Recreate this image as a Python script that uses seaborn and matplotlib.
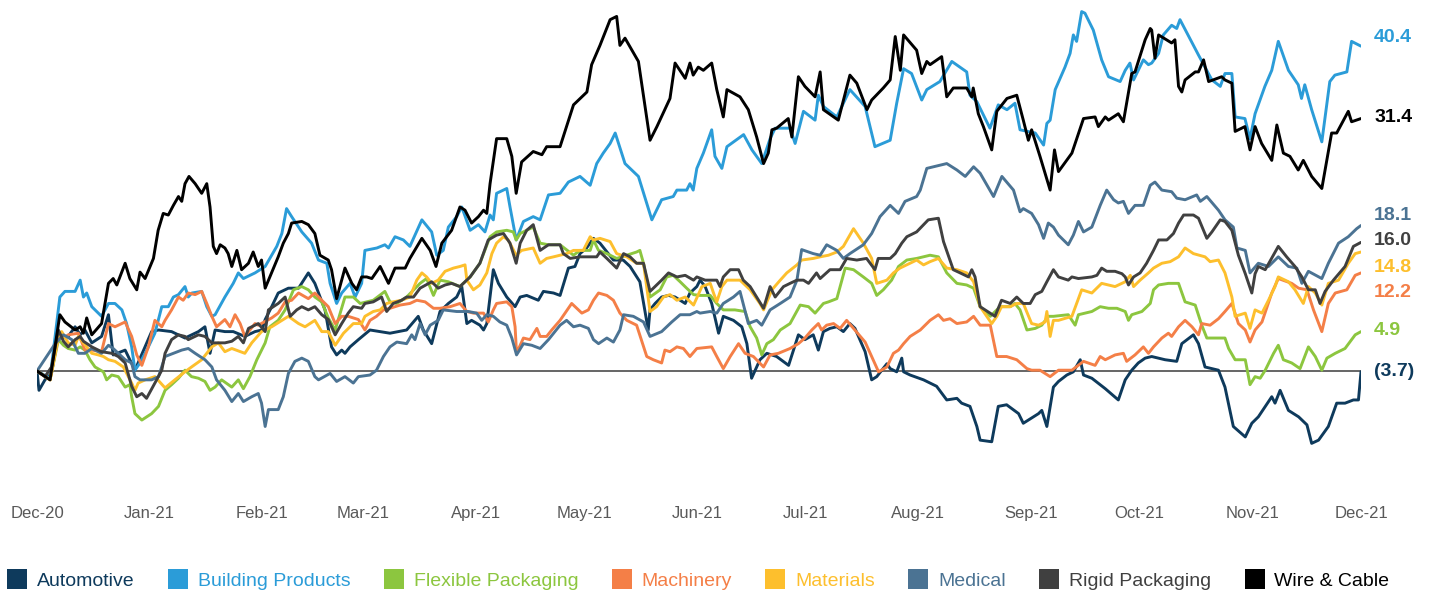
import numpy as np
import pandas as pd
import matplotlib
matplotlib.use("Agg")
import matplotlib.pyplot as plt
from matplotlib.lines import Line2D
import seaborn as sns

# ---------------- data (day offsets from 2020-12-01, index values) ----------------
start = pd.Timestamp("2020-12-01")
end = pd.Timestamp("2021-12-01")

automotive_days = [
    0, 0.55, 2.2, 4.0, 5.9, 7.3, 8.6, 10.5, 11.9, 13.2, 15.1, 17.8, 19.7, 21.0, 24.3, 27.0, 31.6, 33.5,
    37.1, 40.8, 44.5, 46.3, 47.7, 49.1, 51.8, 54.1, 57.3, 60.1, 62.0, 62.9, 64.7, 66.5, 69.3, 72.1, 74.8,
    76.6, 79.4, 81.2, 82.6, 84.0, 84.9, 86.3, 88.6,
    91.8, 97.3, 101.9, 105.1, 106.5, 108.8, 111.1, 113.4, 115.7, 117.1, 118.5, 119.8, 122.1, 123.1, 124.0,
    125.8, 127.2, 129.5, 131.8, 133.2, 135.0, 138.2, 139.6, 142.4, 144.2, 146.5, 148.3, 149.7, 151.5, 153.4,
    155.2, 158.9, 161.6, 163.5, 166.2, 168.5, 169.0, 170.4, 172.2, 174.1, 175.9, 178.7, 180.0, 181.9,
    182.8, 184.2, 186.0, 187.9, 189.2, 192.0, 194.3, 195.7, 197.0, 199.3, 201.2, 203.9, 207.2, 209.9, 211.7,
    214.0, 215.4, 216.8, 218.6, 220.5, 222.3, 224.1, 225.5, 228.3, 230.1, 231.5, 234.3, 235.2, 237.0, 238.4,
    238.9, 240.7, 244.4, 248.0, 250.8, 253.6, 254.9, 257.2, 259.1, 260.0, 263.2, 265.0, 267.3, 270.6, 271.9,
    276.1, 277.0, 278.4, 280.2, 281.6, 283.9, 285.7, 287.6, 288.5, 290.8, 294.5, 298.1, 300.0, 301.8, 303.6,
    305.5, 307.3, 311.0, 314.2, 315.6, 318.8, 320.2, 322.0, 325.7, 327.5, 329.8, 333.1, 334.9, 336.7, 340.4,
    341.3, 342.7, 345.0, 347.8, 350.1, 351.4, 353.3, 356.0, 358.3, 360.6, 362.9, 364.3, 365]
automotive = [
    0, -2.4, -1.1, -0.3, 4.9, 4.3, 4.3, 5.5, 4.5, 5.1, 3.5, 4.3, 7.0, 2.0, 2.6, 0.1, 4.9, 5.1,
    4.9, 4.1, 4.9, 5.5, 2.2, 5.1, 4.9, 4.9, 4.3, 4.9, 5.1, 6.4, 8.0, 9.7, 10.3, 10.3, 12.2,
    10.9, 7.6, 3.0, 2.0, 2.6, 2.2, 3.0, 3.9,
    5.1, 4.7, 5.1, 6.8, 5.1, 3.4, 7.4, 8.4, 9.2, 10.5, 5.9, 6.3, 5.7, 5.1, 5.9,
    12.6, 10.9, 9.2, 8.0, 9.2, 9.4, 8.8, 9.9, 9.7, 9.4, 12.8, 13.0, 14.6, 15.3, 16.5,
    15.9, 13.8, 13.8, 13.0, 11.1, 5.1, 7.6, 8.4, 9.2, 9.4, 9.2, 8.4, 9.7, 10.5,
    11.3, 10.5, 8.4, 4.7, 6.8, 6.3, 5.5, 3.4, -0.9, 1.4, 2.2, 1.8, 0.7, 4.5, 3.9,
    4.5, 2.6, 4.9, 5.3, 5.5, 4.9, 5.9, 5.3, 2.4, -1.1, -0.7, 0.9, 0.3, -0.1, 1.6,
    -0.1, -0.5, -1.1, -1.9, -3.6, -3.4, -4.0, -4.4, -6.9, -8.6, -8.8, -4.4, -4.2, -5.3, -6.5,
    -5.3, -4.9, -6.9, -2.0, -1.3, -0.5, -0.1, 1.4, -0.5, -0.9, -2.2, -3.6, -1.1, 0.1, 1.0,
    1.6, 1.8, 1.4, 1.2, 3.4, 4.5, 3.4, 0.5, 0.1, -2.0, -6.9, -8.2, -6.5, -5.7, -3.2,
    -4.0, -2.4, -4.9, -5.7, -6.7, -9.0, -8.6, -6.9, -4.0, -4.0, -3.6, -3.6, -0.1]

building_days = [
    0, 3.6, 5.0, 6.3, 7.7, 10.5, 11.9, 12.8, 13.7, 15.1, 17.8, 19.7, 21.5, 23.4, 24.7, 26.1, 27.0,
    28.4, 30.7, 32.5, 34.4, 36.2, 37.6, 39.0, 40.8, 41.7, 42.7, 45.4, 46.8, 48.2, 49.1, 51.8, 54.1,
    55.5, 56.9, 60.1, 61.5, 62.9, 66.1, 67.5, 68.8, 70.2, 73.0, 75.7, 77.6, 79.9, 80.8, 82.6, 84.0,
    86.3, 87.7, 89.5,
    90.4, 93.7, 95.9, 96.9, 98.7, 101.0, 102.8, 104.2, 106.1, 108.8, 110.2, 112.0, 113.4, 115.7,
    117.1, 119.4, 121.7, 123.5, 124.9, 125.8, 126.7, 129.5, 130.4, 132.1, 134.1, 136.8, 138.7,
    141.0, 144.2, 146.5, 149.7, 152.5, 154.3, 156.1, 158.0, 159.4, 162.1, 165.8, 169.5, 172.2,
    175.4, 176.4, 179.1, 180.0, 180.9, 181.9,
    183.7, 186.0, 186.9, 188.8, 190.2, 194.8, 197.1, 199.8, 202.1, 203.5, 207.6, 209.0, 211.3,
    214.5, 215.4, 216.8, 220.5, 224.1, 228.3, 231.0, 235.2, 237.0, 238.9, 241.1, 243.9, 245.3,
    248.9, 252.2, 256.3, 257.2, 259.1, 262.7, 265.0, 267.4, 269.6, 271.0,
    275.2, 277.5, 278.4, 279.3, 280.7, 283.4, 284.8, 285.7, 286.6, 288.0, 288.9, 291.2, 293.5,
    295.4, 298.6, 300.0, 301.3, 302.3, 305.0, 306.4, 307.3, 309.2, 310.5, 312.8, 314.2, 315.1,
    320.2, 323.9, 326.2, 327.5, 329.4, 330.3, 333.0, 334.4, 335.8, 338.5, 340.4, 342.2, 345.0,
    347.7, 348.6, 349.5, 351.4, 354.2, 356.4, 357.8, 361.1, 362.4, 365]
building = [
    0, -0.9, 4.3, 9.2, 9.9, 9.9, 11.3, 9.2, 9.7, 8.0, 6.8, 8.4, 8.4, 7.6, 5.9, 3.0, 0.1,
    1.0, 3.0, 4.7, 8.0, 8.0, 9.2, 9.5, 10.5, 9.2, 9.7, 9.9, 8.0, 6.8, 7.0, 9.2, 10.9,
    12.2, 11.5, 12.2, 12.6, 13.0, 15.5, 17.1, 20.2, 19.2, 17.3, 15.9, 13.8, 13.4, 10.9, 8.4, 9.7,
    10.9, 9.2, 10.9,
    15.0, 15.3, 15.7, 15.3, 16.7, 16.3, 15.5, 16.9, 18.8, 17.3, 14.4, 15.0, 17.9, 19.2,
    20.4, 17.5, 18.2, 17.3, 19.4, 18.8, 22.1, 22.7, 20.4, 16.3, 18.6, 19.2, 18.8,
    21.9, 22.1, 23.5, 24.2, 23.1, 25.8, 27.1, 28.3, 29.6, 25.8, 24.2, 18.8, 21.3,
    21.7, 22.5, 22.5, 23.3, 22.5, 25.2,
    27.1, 30.0, 26.7, 25.2, 27.9, 29.4, 27.5, 25.8, 28.9, 30.2, 30.2, 28.3, 32.3,
    31.2, 34.3, 32.9, 31.6, 35.0, 32.9, 27.9, 28.7, 33.3, 37.6, 37.0, 33.7, 35.0,
    36.0, 38.5, 37.2, 34.3, 33.5, 30.2, 33.1, 32.5, 33.3, 30.0,
    29.6, 28.1, 30.8, 31.2, 35.0, 37.8, 39.5, 41.8, 41.0, 44.7, 44.5, 42.4, 38.7,
    36.6, 36.0, 37.4, 38.3, 36.2, 38.7, 38.1, 38.3, 39.5, 41.8, 43.0, 42.6, 43.7,
    39.3, 36.2, 35.4, 37.0, 37.0, 31.6, 31.4, 28.9, 32.0, 35.4, 37.4, 41.0, 37.4,
    35.6, 33.9, 35.6, 32.5, 28.5, 36.0, 36.8, 37.2, 41.0, 40.4]

flexible_days = [
    0, 3.6, 5.9, 7.3, 8.6, 10.5, 11.9, 13.2, 14.6, 16.0, 18.3, 19.2, 20.6, 22.4, 24.3, 25.6, 26.1,
    27.0, 28.9, 31.6, 33.5, 35.3, 37.1, 39.0, 40.8, 42.6, 44.5, 46.3, 47.7, 49.1, 50.9, 53.7, 55.5,
    56.9, 58.7, 60.6, 62.9, 64.2, 66.5, 68.4, 70.7, 73.0, 74.8, 76.6, 78.5, 80.3, 82.2, 84.9, 87.2, 89.1,
    90.9, 92.7, 95.9, 97.3, 99.2, 101.9, 105.6, 107.4, 109.3, 111.1, 113.4, 116.6, 119.4, 122.1, 124.9,
    126.7, 129.5, 131.3, 132.1, 133.2, 135.0, 136.8, 138.7, 141.0, 144.2, 147.9, 149.7, 152.5, 153.4,
    154.8, 157.1, 159.8, 162.6, 165.3, 166.2, 167.2, 169.0, 171.8, 173.6, 175.4, 177.3, 179.1, 181.0,
    182.8, 185.6, 187.4, 189.2, 192.4, 195.2, 196.6, 198.4, 199.8, 201.2, 203.0, 204.9, 207.6, 210.4,
    212.7, 214.5, 216.8, 218.2, 220.5, 222.8, 225.1, 227.8, 230.1, 231.5, 233.3, 235.6, 237.5, 239.8,
    242.5, 244.4, 246.2, 248.5, 250.8, 253.6, 256.3, 258.2, 260.0, 262.8, 265.5, 268.3, 269.6, 271.0, 272.9,
    275.2, 277.0, 278.8, 280.2, 284.3, 286.2, 287.1, 290.8, 293.1, 295.4, 297.7, 300.0, 300.9, 301.8,
    304.6, 306.9, 307.8, 309.2, 311.9, 314.7, 316.5, 319.3, 321.1, 322.5, 327.5, 328.5, 330.3, 333.1,
    334.4, 335.8, 337.2, 338.6, 340.9, 342.2, 343.6, 345.9, 348.2, 350.5, 352.4, 354.2, 355.6, 357.9,
    360.6, 363.4, 365]
flexible = [
    0, -1.1, 3.9, 3.2, 2.8, 2.6, 3.0, 2.6, 1.4, 0.5, -0.1, -1.1, -0.5, -0.7, -2.0, -1.7, -3.2,
    -5.3, -6.1, -5.3, -4.4, -2.4, -1.7, -0.9, 0.1, -0.7, -0.9, -1.3, -2.4, -2.0, -1.1, -2.0, -1.1,
    -2.2, -0.7, 1.4, 3.5, 5.5, 6.3, 7.6, 10.1, 10.5, 10.1, 9.2, 8.6, 6.6, 5.1, 9.2, 9.2, 8.4,
    8.6, 8.8, 9.9, 8.6, 8.4, 9.2, 10.9, 11.5, 9.4, 11.3, 11.1, 10.5, 11.7, 13.4, 16.7,
    17.3, 17.5, 17.3, 16.3, 17.1, 17.5, 17.9, 15.9, 15.7, 15.7, 14.4, 15.0, 15.0, 16.3,
    15.0, 14.6, 14.0, 14.4, 14.8, 15.0, 13.4, 9.2, 10.1, 11.7, 11.9, 11.1, 10.3, 9.5,
    9.4, 9.4, 8.4, 7.6, 7.6, 7.4, 5.5, 4.1, 2.0, 3.4, 3.9, 5.1, 5.9, 8.2,
    8.0, 7.2, 8.4, 8.6, 9.0, 12.8, 12.6, 11.7, 10.9, 9.4, 10.1, 11.3, 13.0, 13.8,
    14.0, 14.2, 14.4, 14.2, 12.2, 10.9, 10.7, 10.3, 8.0, 6.8, 8.0, 8.0, 8.4, 7.6, 5.1,
    5.3, 5.7, 6.8, 6.8, 7.0, 5.7, 7.0, 7.4, 8.0, 7.8, 7.8, 7.4, 6.3, 7.0,
    7.4, 8.4, 10.1, 10.7, 10.9, 10.9, 8.6, 8.2, 5.7, 4.1, 4.1, 2.8, 1.4, 1.4,
    -1.7, -0.7, -0.9, 0.1, 2.2, 3.2, 1.4, 1.0, 0.3, 3.0, 1.8, 0.1, 1.6, 2.2,
    2.8, 4.5, 4.9]

machinery_days = [
    0, 3.6, 5.9, 7.3, 8.6, 11.4, 13.2, 15.1, 17.8, 19.7, 21.5, 24.3, 26.1, 27.5, 28.9, 30.7, 32.5,
    34.4, 35.3, 37.1, 39.0, 40.3, 41.7, 43.6, 45.4, 46.8, 48.2, 49.5, 51.8, 53.2, 54.6, 56.0, 57.3,
    60.1, 61.0, 64.7, 66.5, 68.4, 70.2, 72.1, 74.8, 76.6, 78.5, 80.3, 82.2, 84.0, 85.8, 88.6,
    90.4, 91.8, 93.6, 95.5, 97.3, 100.1, 102.8, 104.7, 107.0, 109.3, 111.1, 113.9, 116.6, 118.5, 120.3,
    123.1, 124.4, 125.8, 126.7, 129.5, 130.9, 131.8, 132.2, 134.1, 135.9, 137.8, 138.7, 140.5, 141.9,
    144.2, 147.4, 148.8, 150.2, 152.0, 153.4, 154.8, 157.1, 158.9, 160.7, 162.6, 165.3, 168.1, 169.9,
    172.2, 173.1, 174.5, 176.4, 178.2, 180.0, 181.9,
    186.0, 187.4, 189.2, 191.1, 193.4, 195.2, 197.5, 200.3, 202.1, 204.4, 207.6, 209.9, 211.7, 213.6,
    215.4, 216.3, 217.7, 219.6, 221.4, 223.2, 225.1, 228.3, 230.1, 232.0, 234.3, 236.1, 237.5, 238.9,
    240.7, 243.5, 246.2, 248.5, 249.9, 251.7, 253.6, 256.3, 258.2, 260.0, 262.8, 264.6, 267.3, 270.1, 272.9,
    274.2, 276.5, 279.3, 281.6, 285.3, 287.6, 288.5, 291.7, 293.1, 294.5, 297.2, 299.5, 300.4, 302.7,
    305.0, 306.4, 307.8, 310.1, 311.9, 312.8, 314.7, 316.5, 318.4, 320.2, 321.1, 323.4, 325.7, 327.5,
    329.4, 331.2, 333.1, 334.4, 335.8, 337.7, 340.4, 342.2, 345.9, 347.8, 350.1, 351.9, 354.2, 356.0,
    357.9, 361.1, 363.4, 365]
machinery = [
    0, -1.1, 4.3, 4.1, 4.5, 4.7, 2.6, 2.6, 2.4, 5.9, 5.5, 6.1, 4.3, 2.0, 0.7, 3.0, 6.3,
    5.5, 6.3, 7.6, 9.2, 8.8, 9.7, 9.5, 9.9, 8.4, 6.8, 5.5, 6.4, 5.5, 7.0, 5.9, 4.3,
    5.9, 5.7, 6.6, 7.2, 8.6, 8.8, 9.7, 9.0, 9.7, 8.8, 8.0, 5.9, 6.8, 6.8, 6.4,
    5.1, 6.3, 6.8, 7.6, 7.8, 8.2, 8.4, 8.8, 8.6, 7.8, 7.8, 8.0, 8.4, 7.4, 7.2,
    7.2, 6.1, 7.6, 8.4, 8.6, 8.0, 5.5, 2.2, 4.1, 3.9, 5.3, 4.3, 4.3, 5.1,
    6.3, 8.4, 7.8, 7.2, 7.6, 8.8, 9.7, 9.4, 8.8, 7.2, 6.3, 5.7, 1.8, 1.4,
    1.0, 2.6, 2.4, 3.0, 2.8, 1.8, 2.8,
    3.0, 1.8, 0.3, 1.8, 3.4, 2.2, 1.8, 0.5, 2.0, 2.2, 2.8, 3.4, 4.1, 5.1,
    5.9, 5.1, 5.7, 5.9, 5.3, 6.3, 5.3, 3.6, 1.8, -0.1, 0.5, 2.2, 2.6, 3.4,
    4.3, 5.1, 6.3, 7.0, 6.3, 6.5, 5.9, 6.1, 6.8, 5.7, 5.7, 1.8, 1.8, 1.4, 0.3,
    0.1, 0.1, -0.7, 0.1, 0.1, 0.9, 1.2, 0.7, 1.8, 1.4, 2.0, 2.2, 1.2, 2.0,
    3.0, 2.2, 3.0, 4.1, 4.7, 4.3, 5.5, 6.3, 5.5, 4.5, 5.9, 5.7, 6.5, 7.4,
    8.4, 5.9, 5.1, 3.6, 5.1, 6.1, 9.7, 11.5, 10.9, 10.3, 10.1, 7.6, 4.9, 8.4,
    9.7, 10.1, 11.9, 12.2]

materials_days = [
    0, 3.6, 5.9, 6.8, 8.6, 10.5, 11.4, 12.8, 15.1, 16.9, 18.3, 19.7, 21.5, 23.8, 25.2, 26.1, 27.0,
    27.9, 29.8, 32.5, 35.3, 38.0, 40.8, 42.6, 45.4, 48.2, 50.0, 51.8, 53.7, 57.3, 59.2, 61.9, 64.7,
    67.5, 69.3, 72.1, 73.9, 76.6, 78.5, 80.3, 82.2, 84.5, 87.2, 89.5,
    90.4, 92.7, 94.6, 96.4, 98.2, 100.5, 102.8, 104.7, 106.1, 107.4, 108.8, 110.6, 112.5, 114.8, 116.6,
    118.0, 118.5, 120.3, 122.1, 124.0, 125.4, 126.7, 128.6, 129.9, 132.1, 133.6, 136.8, 138.7, 140.5,
    142.4, 146.0, 147.9, 150.6, 152.5, 153.4, 155.2, 158.0, 159.8, 162.6, 165.3, 167.2, 169.0, 170.8,
    172.7, 174.5, 176.4, 178.7, 181.0,
    183.3, 185.6, 186.5, 187.4, 188.8, 190.2, 193.8, 196.6, 199.3, 200.3, 202.6, 204.9, 206.7, 209.5,
    210.8, 214.0, 215.9, 218.2, 220.5, 222.3, 225.1, 227.8, 230.1, 231.5, 234.3, 236.1, 237.9, 240.7,
    242.5, 244.4, 246.2, 248.5, 250.8, 253.6, 256.3, 258.2, 260.0, 263.2, 264.6, 265.9, 268.3, 270.1, 271.9,
    274.2, 276.1, 277.9, 278.4, 279.3, 280.2, 281.6, 285.3, 288.0, 290.8, 293.5, 297.2, 300.0, 301.4,
    302.3, 304.1, 306.4, 307.8, 310.1, 312.4, 314.7, 316.5, 318.8, 322.0, 323.4, 325.7, 327.5, 329.4,
    330.3, 333.1, 334.4, 335.8, 337.7, 339.5, 341.3, 342.2, 345.0, 346.8, 349.1, 350.5, 352.4, 354.2,
    356.0, 358.8, 361.5, 363.4, 365]
materials = [
    0, -1.1, 4.3, 4.9, 3.5, 3.2, 4.3, 3.5, 2.2, 2.0, 1.8, 1.4, 1.2, 0.5, -0.7, -1.5, -2.4,
    -1.5, -1.1, -0.7, -2.1, -1.1, -0.1, 0.5, 1.4, 3.0, 3.5, 2.4, 2.8, 2.2, 3.5, 4.9, 5.5,
    6.3, 6.8, 5.9, 5.5, 6.3, 4.9, 4.9, 3.2, 4.7, 5.9, 5.9,
    6.8, 7.4, 7.6, 8.4, 8.6, 8.8, 9.2, 11.3, 12.2, 11.7, 10.9, 11.3, 12.4, 12.8, 13.0,
    13.2, 11.3, 10.1, 10.7, 12.2, 14.6, 15.9, 16.7, 16.3, 14.4, 15.0, 15.3, 13.4, 14.0,
    14.2, 14.6, 15.0, 15.0, 16.7, 16.3, 16.5, 16.1, 14.6, 14.2, 13.4, 13.4, 7.4, 8.0,
    9.2, 9.5, 8.8, 9.2, 8.2,
    10.5, 10.9, 9.7, 8.6, 10.5, 11.3, 11.3, 10.1, 8.4, 7.6, 10.1, 11.3, 12.2, 13.2,
    13.8, 14.0, 14.2, 14.4, 14.8, 15.5, 17.7, 15.9, 14.0, 10.9, 11.3, 12.2, 12.8, 13.4,
    13.8, 13.2, 13.6, 14.0, 12.8, 12.6, 12.2, 11.1, 8.0, 5.9, 6.8, 8.0, 8.0, 8.4, 8.4,
    5.9, 5.7, 6.1, 7.4, 4.3, 6.3, 6.3, 6.8, 10.1, 9.7, 10.9, 10.5, 11.1, 11.9,
    10.5, 11.3, 12.2, 12.8, 13.4, 13.6, 14.2, 15.3, 14.6, 14.2, 13.6, 13.8, 12.2, 9.2,
    6.8, 7.2, 5.3, 7.6, 7.2, 8.8, 10.5, 11.7, 11.1, 10.1, 8.4, 10.5, 9.7, 8.2,
    10.9, 11.3, 13.4, 14.6, 14.8]

medical_days = [
    0, 5.0, 7.3, 9.6, 11.4, 13.2, 15.1, 17.8, 19.7, 21.0, 24.3, 26.1, 27.0, 28.4, 31.6, 33.5, 35.3,
    37.6, 39.9, 41.7, 43.6, 46.3, 48.2, 49.5, 51.8, 53.7, 55.5, 56.9, 59.2, 61.0, 61.9, 62.9, 63.8,
    66.5, 67.9, 69.3, 71.1, 73.0, 74.8, 76.6, 77.6, 80.8, 82.6, 84.9, 87.2, 88.6,
    91.8, 93.6, 95.5, 97.3, 99.2, 101.9, 103.3, 104.2, 105.6, 107.0, 108.4, 110.6, 112.0, 115.7, 118.9,
    121.2, 122.6, 124.0, 125.8, 127.6, 129.5, 130.9, 132.2, 134.1, 136.4, 138.7, 141.0, 144.2, 146.0,
    147.9, 149.7, 152.0, 153.4, 154.8, 157.1, 158.9, 160.7, 161.7, 164.4, 167.2, 169.0, 172.2, 175.0,
    177.3, 180.0, 181.9,
    182.8, 185.6, 187.4, 189.2, 192.0, 193.8, 196.1, 198.4, 199.8, 202.1, 204.9, 207.6, 209.5, 210.8,
    214.0, 215.9, 217.7, 220.5, 222.3, 224.1, 227.8, 230.1, 232.4, 235.2, 237.5, 239.3, 242.5, 243.5,
    245.3, 250.8, 253.6, 255.9, 258.2, 260.0, 263.7, 266.0, 269.2, 271.0, 271.9,
    274.2, 276.1, 277.5, 278.8, 280.2, 281.6, 284.3, 285.7, 287.1, 288.5, 290.8, 293.1, 294.9, 296.8,
    298.1, 299.5, 300.9, 302.7, 305.0, 306.9, 308.2, 310.1, 312.8, 314.2, 316.5, 319.7, 320.7, 322.5,
    325.7, 327.5, 329.8, 330.8, 333.1, 334.4, 336.7, 339.5, 342.2, 345.0, 347.3, 348.7, 350.5, 354.2,
    356.0, 358.8, 361.5, 363.8, 365]
medical = [
    0, 3.4, 4.5, 3.9, 2.2, 2.2, 2.8, 2.2, 3.2, 2.8, 1.4, 1.0, -0.7, -1.1, -1.1, -0.7, 1.8,
    2.2, 2.6, 2.8, 2.2, 1.4, 0.5, -1.1, -2.4, -3.8, -2.8, -3.8, -3.2, -2.8, -4.0, -6.9, -4.8,
    -4.8, -3.2, -0.3, 1.2, 1.6, 1.2, -0.7, -1.1, -0.3, -1.3, -0.7, -1.5, -0.7,
    -0.5, 0.1, 1.8, 3.0, 3.6, 3.4, 4.5, 3.9, 5.9, 4.5, 5.7, 6.3, 7.6, 7.4, 7.4,
    7.2, 6.3, 7.0, 6.8, 6.1, 5.7, 4.1, 2.0, 3.4, 3.2, 2.8, 3.9, 5.7, 6.3,
    5.5, 5.7, 5.3, 3.9, 3.4, 4.1, 3.6, 5.1, 7.0, 6.8, 6.1, 4.3, 4.9, 6.1,
    7.0, 7.0, 7.4,
    7.2, 7.4, 7.2, 8.4, 9.2, 9.9, 5.9, 6.3, 5.7, 7.6, 8.4, 9.2, 11.3, 15.1,
    14.6, 14.4, 15.7, 15.0, 14.0, 14.6, 15.7, 17.1, 19.2, 20.6, 19.6, 21.1, 21.7, 22.5,
    25.2, 25.8, 25.0, 24.2, 25.4, 24.6, 21.7, 24.2, 22.5, 19.8, 20.2,
    19.6, 18.2, 16.5, 18.4, 17.9, 16.9, 15.7, 16.9, 18.6, 17.3, 17.9, 20.6, 22.5, 21.3,
    20.9, 21.1, 19.6, 20.6, 20.6, 23.1, 23.5, 22.5, 22.3, 21.5, 21.3, 21.9, 21.1, 21.7,
    20.0, 18.8, 17.9, 15.3, 15.0, 12.2, 13.4, 13.0, 14.2, 13.0, 12.8, 10.9, 12.4, 11.5,
    13.4, 15.9, 16.7, 17.7, 18.1]

rigid_days = [
    0, 2.2, 4.0, 5.9, 7.3, 8.6, 10.5, 11.9, 12.8, 15.1, 17.8, 20.6, 22.4, 24.3, 26.1, 27.5, 28.9,
    30.2, 32.5, 34.4, 35.3, 37.1, 39.0, 40.8, 41.7, 44.5, 46.3, 48.2, 51.8, 53.7, 55.5, 56.9, 58.3,
    61.0, 62.9, 63.8, 66.5, 68.4, 69.8, 71.6, 73.0, 74.8, 76.6, 78.5, 80.3, 82.2, 84.0, 85.8, 87.2, 89.5,
    90.4, 92.7, 95.0, 96.4, 98.2, 100.5, 101.9, 103.8, 105.6, 108.8, 110.6, 112.5, 114.3, 116.6, 119.4,
    122.1, 124.4, 126.7, 128.6, 130.4, 132.1, 133.2, 135.0, 136.8, 138.7, 141.0, 144.2, 145.1, 147.0,
    149.7, 152.5, 154.3, 155.2, 157.1, 159.8, 161.7, 163.5, 165.3, 167.2, 169.0, 172.2, 174.1, 176.4,
    178.7, 181.0,
    181.9, 184.2, 187.4, 188.3, 189.2, 191.1, 193.4, 194.7, 196.6, 200.3, 202.1, 203.5, 205.8, 207.6,
    209.5, 211.3, 212.7, 214.9, 215.9, 218.6, 221.4, 223.2, 226.0, 228.7, 231.0, 231.9, 235.2, 236.6,
    238.4, 239.8, 242.5, 244.4, 245.7, 248.5, 249.9, 252.6, 254.5, 256.8, 257.7, 258.6, 260.0, 264.1,
    265.9, 268.3, 270.1, 271.9,
    273.8, 275.2, 277.0, 278.4, 280.2, 281.6, 284.3, 285.3, 287.1, 290.8, 292.2, 293.5, 294.9, 297.2,
    299.1, 300.0, 300.9, 302.3, 304.1, 305.9, 307.8, 309.2, 311.5, 313.3, 314.7, 316.1, 318.8, 320.2,
    322.5, 323.9, 326.2, 327.5, 329.4, 331.2, 333.1, 334.9, 335.8, 336.7, 338.6, 342.2, 344.5, 346.8,
    348.7, 350.5, 352.4, 353.7, 355.1, 357.4, 360.6, 362.9, 365]
rigid = [
    0, -0.7, 0.5, 5.1, 3.7, 3.0, 3.9, 4.3, 3.7, 3.0, 2.4, 2.2, 1.8, 1.0, -1.9, -3.2, -2.8,
    -3.4, -1.5, 0.1, 2.2, 3.9, 4.5, 4.3, 3.9, 4.5, 4.3, 3.5, 3.5, 3.7, 4.3, 3.5, 5.3,
    5.9, 4.9, 7.6, 8.4, 9.2, 6.8, 7.6, 8.0, 7.6, 8.0, 7.0, 6.4, 4.5, 5.9, 7.2, 8.0, 7.8,
    8.4, 8.6, 9.2, 7.4, 8.4, 8.8, 9.2, 9.2, 10.3, 11.1, 10.3, 10.7, 10.9, 10.5, 11.7,
    13.4, 16.3, 16.9, 17.1, 15.9, 13.4, 15.9, 17.5, 18.2, 15.0, 15.7, 15.7, 14.6, 14.0,
    14.2, 14.2, 14.2, 14.8, 14.0, 12.8, 14.6, 14.2, 13.4, 13.4, 9.9, 11.3, 12.2, 11.7,
    11.9, 11.3,
    11.7, 11.3, 11.3, 10.5, 11.7, 12.6, 12.6, 11.3, 10.5, 7.8, 10.5, 9.2, 10.5, 10.9,
    11.3, 11.3, 10.9, 12.2, 11.5, 12.6, 12.6, 14.0, 13.8, 14.0, 12.6, 14.0, 14.0, 14.6,
    15.9, 16.7, 17.3, 18.2, 18.8, 19.0, 16.1, 12.6, 12.2, 11.7, 12.6, 11.7, 8.0, 6.8,
    8.8, 8.4, 9.2, 8.4,
    8.4, 9.5, 9.9, 11.1, 12.6, 11.7, 11.3, 11.7, 11.5, 11.7, 11.9, 12.8, 12.4, 12.4,
    12.1, 11.7, 10.7, 11.7, 12.2, 13.4, 15.0, 16.3, 16.3, 17.1, 18.4, 19.4, 19.4, 19.0,
    16.5, 17.3, 18.8, 18.6, 17.5, 14.4, 12.1, 9.7, 12.1, 13.0, 12.6, 15.5, 14.2, 13.0,
    11.7, 10.1, 10.1, 8.4, 9.9, 11.3, 13.0, 15.5, 16.0]

wire_days = [
    0, 3.6, 6.3, 7.7, 10.5, 11.9, 12.8, 13.7, 15.1, 17.8, 19.7, 21.0, 22.0, 24.3, 25.6, 27.5,
    28.4, 29.8, 32.1, 33.4, 34.8, 36.2, 37.6, 39.0, 39.9, 40.8, 41.9, 43.6, 45.4, 46.8, 47.7,
    48.6, 49.5, 50.5, 51.8, 52.7, 53.7, 55.1, 56.4, 58.3, 59.6, 61.0, 61.9, 62.9, 64.2, 66.5,
    67.9, 69.3, 70.2, 73.0, 74.8, 76.6, 78.0, 80.3, 81.2, 82.6, 84.9, 86.8, 88.1, 89.5,
    90.9, 92.3, 94.6, 96.9, 98.7, 101.5, 102.8, 106.1, 108.4, 110.0, 111.6, 114.3, 116.6, 118.0,
    119.8, 121.7, 123.1, 124.0, 124.9, 126.7, 129.5, 130.9, 132.1, 133.6, 136.8, 139.2, 140.5,
    144.2, 147.9, 151.6, 152.9, 155.2, 158.0, 159.8, 160.7, 162.1, 165.8, 169.0, 170.9, 174.5,
    175.9, 178.7, 180.0, 180.9, 182.3,
    183.7, 186.0, 187.4, 189.2, 190.2, 193.8, 196.1, 198.4, 200.3, 201.6, 202.6, 203.9, 207.1,
    208.1, 209.9, 211.7, 214.5, 215.9, 216.8, 220.9, 224.1, 226.0, 228.8, 230.1, 233.3, 235.2,
    236.6, 238.0, 238.9, 242.5, 243.9, 245.3, 246.2, 249.4, 250.8, 252.6, 256.3, 257.7, 258.1,
    259.5, 260.9, 263.2, 264.6, 267.4, 270.1, 271.9,
    273.3, 274.2, 276.5, 279.3, 280.5, 281.6, 285.3, 288.5, 291.7, 292.6, 294.5, 295.4, 298.1,
    299.5, 301.8, 302.7, 305.5, 306.9, 307.3, 308.2, 309.2, 312.8, 313.7, 314.7, 315.6, 316.5,
    319.3, 320.2, 321.6, 323.0, 326.6, 327.5, 329.4, 330.3, 333.0, 334.4, 335.8, 337.6, 340.4,
    341.8, 343.6, 345.4, 347.7, 349.1, 351.4, 354.2, 356.9, 358.3, 361.5, 362.4, 365]
wire = [
    0, -1.1, 7.0, 6.1, 5.1, 5.5, 4.7, 6.6, 4.5, 5.9, 10.9, 11.5, 10.7, 13.4, 11.5, 10.1,
    12.3, 11.5, 14.0, 17.5, 19.6, 19.4, 20.6, 21.7, 21.1, 23.3, 24.2, 23.3, 22.1, 23.3, 20.4,
    15.5, 14.6, 15.7, 15.3, 14.6, 13.0, 15.0, 12.6, 13.4, 14.8, 13.0, 13.8, 10.3, 11.7, 14.2,
    15.9, 17.1, 18.4, 18.6, 18.2, 17.1, 14.4, 13.8, 12.6, 9.0, 12.8, 10.9, 10.1, 11.7,
    11.7, 11.5, 13.0, 10.9, 12.8, 12.8, 14.0, 16.5, 15.0, 13.0, 15.9, 17.5, 20.4, 20.0,
    18.4, 19.2, 20.0, 19.6, 23.3, 28.9, 28.9, 26.7, 22.1, 26.0, 27.3, 26.9, 27.9,
    27.9, 33.1, 34.7, 38.1, 40.5, 43.7, 44.1, 40.5, 41.4, 38.5, 28.7, 30.4, 33.9,
    38.3, 36.4, 38.3, 36.8, 37.8,
    37.4, 38.3, 35.0, 31.6, 35.0, 34.1, 32.5, 29.1, 25.8, 27.1, 30.0, 30.2, 31.4,
    29.1, 36.6, 35.4, 34.1, 37.2, 32.5, 31.2, 36.8, 35.8, 32.5, 33.7, 35.2, 36.2,
    41.6, 37.4, 41.8, 39.9, 37.0, 38.5, 38.1, 39.1, 34.1, 35.2, 35.2, 34.1, 35.2,
    32.0, 30.4, 27.5, 32.3, 33.9, 34.3, 31.2,
    28.7, 30.0, 26.7, 22.5, 27.5, 24.8, 27.1, 31.4, 31.6, 30.4, 31.6, 31.2, 32.0,
    31.0, 37.0, 37.2, 41.2, 42.6, 42.4, 38.9, 41.8, 40.8, 41.2, 35.4, 34.7, 36.2,
    37.2, 37.2, 38.7, 36.0, 36.6, 36.2, 35.8, 29.8, 30.4, 27.5, 30.4, 28.3, 26.2,
    30.6, 27.1, 26.7, 25.0, 26.2, 24.2, 22.7, 29.6, 29.6, 32.3, 31.0, 31.4]

names = ["Automotive", "Building Products", "Flexible Packaging", "Machinery",
         "Materials", "Medical", "Rigid Packaging", "Wire & Cable"]
end_labels = ["(3.7)", "40.4", "4.9", "12.2", "14.8", "18.1", "16.0", "31.4"]
end_label_y = [-0.1, 41.5, 5.0, 9.8, 12.9, 19.3, 16.2, 31.5]
tick_labels = ["Dec-20", "Jan-21", "Feb-21", "Mar-21", "Apr-21", "May-21", "Jun-21",
               "Jul-21", "Aug-21", "Sep-21", "Oct-21", "Nov-21", "Dec-21"]

colors = ["#0e3a5c", "#2b9cd8", "#8cc63f", "#f47f47", "#fdbf2d", "#4b7393", "#404040", "#000000"]

series = [(automotive_days, automotive), (building_days, building), (flexible_days, flexible),
          (machinery_days, machinery), (materials_days, materials), (medical_days, medical),
          (rigid_days, rigid), (wire_days, wire)]
df = pd.concat([pd.DataFrame({"date": start + pd.to_timedelta(d, unit="D"), "value": v, "series": n})
                for n, (d, v) in zip(names, series)], ignore_index=True)

# ---------------- plot ----------------
sns.set_theme(style="white")
plt.rcParams["font.family"] = ["Liberation Sans", "DejaVu Sans"]

W, H = 1430, 594
fig = plt.figure(figsize=(W / 100, H / 100), dpi=100)
ax = fig.add_axes([37 / W, 1 - 451.4 / H, 1324 / W, (451.4 - 9.2) / H])

ax.axhline(0, color="#595959", lw=1.3, zorder=1)
sns.lineplot(data=df, x="date", y="value", hue="series", hue_order=names,
             palette=dict(zip(names, colors)), linewidth=2.1, legend=False,
             estimator=None, sort=True, ax=ax, zorder=2)

ax.set_xlim(start, end)
ax.set_ylim(-10, 45)
for s in ax.spines.values():
    s.set_visible(False)
ax.set_yticks([])
ax.set_xlabel("")
ax.set_ylabel("")
ticks = pd.date_range(start, end, freq="MS")
ax.set_xticks(ticks)
ax.set_xticklabels(tick_labels, fontsize=12, color="#595959")
ax.tick_params(axis="x", length=0, pad=39)

for lab, ly, col in zip(end_labels, end_label_y, colors):
    ax.annotate(lab, xy=(end, ly), xytext=(9.5, 0), textcoords="offset points",
                va="center", ha="left", fontsize=14, fontweight="bold", color=col,
                annotation_clip=False)

handles = [Line2D([], [], marker="s", linestyle="", markersize=14, markeredgewidth=0,
                  color=c) for c in colors]
leg = fig.legend(handles, names, loc="center", bbox_to_anchor=(698.5 / W, 1 - 581 / H),
                 ncol=8, frameon=False, fontsize=14, handlelength=0.98, handletextpad=0.52,
                 columnspacing=1.75, borderpad=0, borderaxespad=0)
for t, c in zip(leg.get_texts(), colors):
    t.set_color(c)

fig.savefig("out.png", dpi=100)
